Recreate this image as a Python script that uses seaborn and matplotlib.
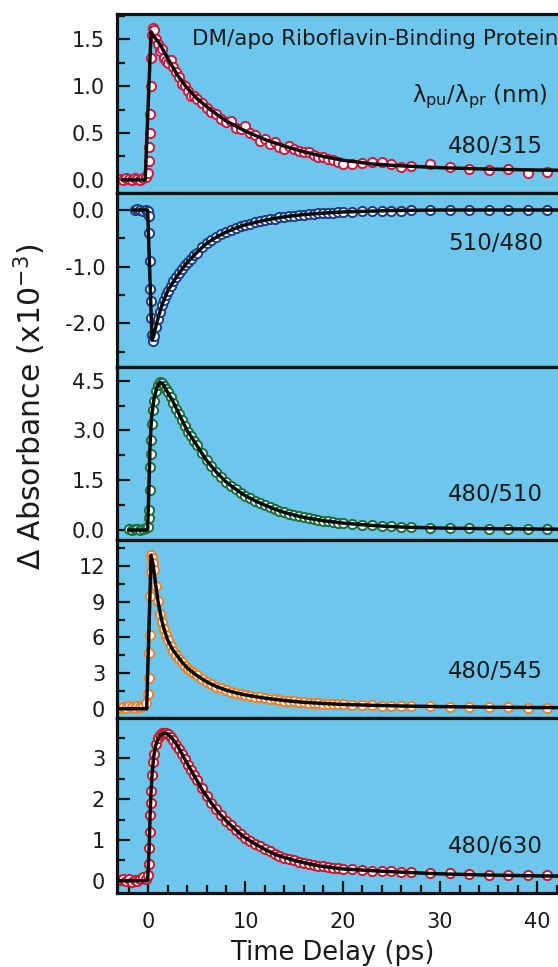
import numpy as np
import matplotlib
matplotlib.use("Agg")
import matplotlib.pyplot as plt
import seaborn as sns
from matplotlib.ticker import MultipleLocator, FormatStrFormatter

nan = np.nan

# ---------------- data ----------------
t_obs = [-2.9, -2.6, -2.3, -2.0, -1.7, -1.4, -1.1, -0.8, -0.5, -0.25,
         0.0, 0.05, 0.1, 0.15, 0.2, 0.25, 0.3, 0.4,
         0.5, 0.6, 0.8, 1.0, 1.2, 1.4, 1.6, 1.8, 2.0, 2.3, 2.6, 2.9, 3.2, 3.5,
         3.8, 4.1, 4.4, 4.7, 5.0, 5.5, 6.0, 6.5, 7.0, 7.5, 8.0, 8.5, 9.0, 9.5,
         10.0, 10.5, 11.0, 11.5, 12.0, 12.5, 13.0, 13.5, 14.0, 14.5, 15.0, 15.5,
         16.0, 16.5, 17.0, 17.5, 18.0, 18.5, 19.0, 19.5, 20.0,
         21, 22, 23, 24, 25, 26, 27, 29, 31, 33, 35, 37, 39, 41, 43]

obs_480_315 = [0.01, 0.0, 0.02, 0.01, 0.0, 0.02, 0.01, 0.0, 0.02, 0.03,
               0.07, 0.2, 0.35, 0.5, 0.7, 1.0, 1.3, 1.55,
               1.62, 1.6, 1.5, 1.45, 1.38, 1.4, 1.3, 1.27, 1.25, 1.28, 1.2, 1.15, 1.1, 1.02,
               1.0, 0.95, 0.9, 0.9, 0.86, 0.82, 0.77, 0.72, 0.70, 0.65, 0.62, 0.63, 0.55, 0.54,
               0.58, 0.50, 0.48, 0.42, 0.44, 0.38, 0.40, 0.35, 0.33, 0.36, 0.33, 0.31,
               0.30, 0.30, 0.27, 0.24, 0.24, 0.22, 0.21, 0.19, 0.17,
               0.17, 0.18, 0.19, 0.19, 0.17, 0.14, 0.15, 0.17, 0.14, 0.12, 0.11, 0.12, 0.07, 0.08, 0.08]

obs_510_480 = [nan, nan, nan, nan, nan, 0.0, 0.01, 0.0, -0.01, 0.0,
               -0.02, -0.1, -0.4, -0.9, -1.4, -1.6, -1.9, -2.2,
               -2.32, -2.22, -2.06, -1.92, -1.8, -1.68, -1.58, -1.5, -1.43, -1.34, -1.26, -1.18, -1.11, -1.04,
               -0.97, -0.91, -0.86, -0.80, -0.75, -0.66, -0.59, -0.53, -0.48, -0.43, -0.39, -0.35, -0.32, -0.29,
               -0.26, -0.24, -0.21, -0.20, -0.18, -0.16, -0.15, -0.13, -0.12, -0.11, -0.10, -0.09,
               -0.08, -0.075, -0.07, -0.06, -0.055, -0.05, -0.045, -0.04, -0.035,
               -0.03, -0.02, -0.02, -0.015, -0.01, -0.01, 0.0, 0.0, 0.0, 0.0, 0.0, 0.0, 0.0, 0.0, 0.0]

obs_480_510 = [nan, nan, nan, 0.02, 0.0, 0.03, 0.02, 0.0, 0.04, 0.05,
               0.1, 0.35, 0.6, 1.2, 1.9, 2.3, 2.7, 3.2,
               3.6, 3.9, 4.2, 4.38, 4.45, 4.42, 4.35, 4.25, 4.15, 4.0, 3.82, 3.65, 3.48, 3.3,
               3.12, 2.96, 2.82, 2.68, 2.55, 2.32, 2.1, 1.92, 1.75, 1.6, 1.45, 1.34, 1.23, 1.12,
               1.03, 0.95, 0.88, 0.81, 0.75, 0.69, 0.63, 0.58, 0.53, 0.49, 0.45, 0.41,
               0.38, 0.35, 0.33, 0.30, 0.28, 0.26, 0.24, 0.22, 0.21,
               0.18, 0.16, 0.14, 0.12, 0.11, 0.09, 0.08, 0.07, 0.06, 0.05, 0.04, 0.04, 0.03, 0.03, 0.02]

obs_480_545 = [0.1, 0.15, 0.1, 0.2, 0.15, 0.1, 0.2, 0.15, 0.2, 0.5,
               1.2, 2.6, 4.7, 6.2, 9.5, 11.5, 12.9, 12.7,
               12.3, 11.7, 10.3, 9.1, 8.0, 7.3, 6.7, 6.2, 5.8, 5.3, 4.9, 4.55, 4.2, 3.9,
               3.62, 3.38, 3.17, 2.98, 2.8, 2.52, 2.27, 2.05, 1.87, 1.71, 1.57, 1.45, 1.34, 1.25,
               1.16, 1.09, 1.02, 0.95, 0.89, 0.84, 0.79, 0.74, 0.69, 0.65, 0.61, 0.57,
               0.54, 0.51, 0.48, 0.46, 0.44, 0.42, 0.40, 0.38, 0.36,
               0.33, 0.31, 0.29, 0.27, 0.25, 0.23, 0.22, 0.20, 0.17, 0.15, 0.13, 0.11, 0.10, 0.09, 0.08]

obs_480_630 = [0.02, 0.05, 0.0, 0.05, -0.02, 0.03, 0.0, 0.05, 0.08, 0.05,
               0.15, 0.4, 0.8, 1.2, 1.6, 1.9, 2.2, 2.6,
               2.9, 3.1, 3.35, 3.5, 3.58, 3.62, 3.63, 3.62, 3.6, 3.53, 3.44, 3.34, 3.22, 3.1,
               2.98, 2.85, 2.72, 2.59, 2.46, 2.27, 2.08, 1.91, 1.75, 1.6, 1.47, 1.36, 1.25, 1.15,
               1.06, 0.98, 0.9, 0.84, 0.77, 0.72, 0.66, 0.61, 0.57, 0.53, 0.5, 0.47,
               0.44, 0.41, 0.39, 0.37, 0.35, 0.34, 0.32, 0.31, 0.3,
               0.28, 0.26, 0.25, 0.24, 0.23, 0.22, 0.21, 0.19, 0.18, 0.16, 0.15, 0.14, 0.13, 0.13, 0.12]

# fitted curves
fit_t_480_315 = [-2.7, -0.3, 0.3, 0.6, 1.2, 2.0, 3.0, 4.0, 5.0, 6.5, 8.0, 10, 12, 14, 16, 18, 20,
                 23, 26, 30, 35, 40, 45]
fit_480_315 = [0.0, 0.0, 1.58, 1.53, 1.45, 1.3, 1.12, 0.98, 0.87, 0.74, 0.63, 0.52, 0.43, 0.36, 0.30,
               0.25, 0.21, 0.17, 0.15, 0.13, 0.115, 0.105, 0.10]

fit_t_510_480 = [-1.6, -0.05, 0.4, 0.6, 0.8, 1.0, 1.2, 1.5, 2.0, 2.5, 3.0, 3.5, 4.0, 4.5, 5.0, 6.0,
                 7.0, 8.0, 9.0, 10, 12, 14, 16, 18, 20, 25, 30, 45]
fit_510_480 = [0.0, 0.0, -2.3, -2.2, -2.05, -1.92, -1.8, -1.64, -1.43, -1.29, -1.16, -1.04, -0.93,
               -0.84, -0.75, -0.59, -0.48, -0.39, -0.32, -0.26, -0.18, -0.12, -0.08, -0.055, -0.035,
               -0.01, 0.0, 0.0]

fit_t_480_510 = [-2.0, -0.05, 0.1, 0.2, 0.35, 0.6, 0.9, 1.2, 1.5, 2.0, 2.5, 3.0, 3.5, 4.0, 4.5, 5.0,
                 6.0, 7.0, 8.0, 9.0, 10, 11, 12, 13, 14, 15, 16, 18, 20, 22, 24, 26, 30, 35, 40, 45]
fit_480_510 = [0.0, 0.0, 1.5, 2.6, 3.4, 3.95, 4.3, 4.45, 4.4, 4.15, 3.9, 3.6, 3.3, 3.0, 2.78, 2.55,
               2.1, 1.75, 1.45, 1.23, 1.03, 0.88, 0.75, 0.63, 0.53, 0.45, 0.38, 0.28, 0.21, 0.16,
               0.12, 0.09, 0.06, 0.04, 0.03, 0.02]

fit_t_480_545 = [-3.2, -0.15, 0.3, 0.5, 0.8, 1.0, 1.3, 1.6, 2.0, 2.5, 3.0, 3.5, 4.0, 5.0, 6.0, 7.0,
                 8.0, 9.0, 10, 12, 14, 16, 18, 20, 23, 26, 30, 35, 40, 45]
fit_480_545 = [0.0, 0.0, 12.9, 12.2, 10.3, 9.1, 7.8, 6.8, 5.8, 5.0, 4.45, 3.9, 3.45, 2.8, 2.27, 1.87,
               1.57, 1.34, 1.16, 0.89, 0.69, 0.54, 0.44, 0.36, 0.29, 0.23, 0.18, 0.13, 0.10, 0.08]

fit_t_480_630 = [-3.2, -0.05, 0.1, 0.2, 0.3, 0.4, 0.55, 0.75, 1.0, 1.3, 1.7, 2.0, 2.5, 3.0, 3.5, 4.0,
                 4.7, 5.5, 6.4, 7.2, 8.1, 9.0, 9.8, 11, 12, 13.2, 15, 16.6, 18, 20, 23.5, 27, 30, 35,
                 40, 45]
fit_480_630 = [0.0, 0.0, 0.8, 1.6, 2.2, 2.6, 3.0, 3.3, 3.48, 3.58, 3.62, 3.6, 3.48, 3.32, 3.1, 2.88,
               2.59, 2.25, 1.94, 1.68, 1.45, 1.25, 1.08, 0.9, 0.77, 0.63, 0.5, 0.41, 0.35, 0.29,
               0.24, 0.2, 0.17, 0.14, 0.12, 0.11]

labels = ["480/315", "510/480", "480/510", "480/545", "480/630"]
x_ticks = [0, 10, 20, 30, 40]

# ---------------- style ----------------
sns.set_style("ticks")
plt.rcParams['font.family'] = ['DejaVu Sans']
plt.rcParams['axes.unicode_minus'] = False
plt.rcParams['mathtext.default'] = 'regular'

W, H = 558, 967
fig = plt.figure(figsize=(W / 100, H / 100), dpi=100)
bg = '#6DC6EC'

panel_px = [(14, 193), (193, 367), (367, 540), (540, 718), (718, 893)]
ylims = [(-0.14, 1.77), (-2.77, 0.30), (-0.30, 4.91), (-0.78, 14.2), (-0.30, 3.99)]
majors = [0.5, 1.0, 1.5, 3.0, 1.0]
minors = [0.25, 0.5, 0.75, 1.5, 0.5]
fmts = ['%.1f', '%.1f', '%.1f', '%d', '%d']
edge_cols = ['#D2173F', '#1C3D82', '#1E6E3C', '#F0822A', '#C9182F']
obs = [obs_480_315, obs_510_480, obs_480_510, obs_480_545, obs_480_630]
fit_t = [fit_t_480_315, fit_t_510_480, fit_t_480_510, fit_t_480_545, fit_t_480_630]
fit_v = [fit_480_315, fit_510_480, fit_480_510, fit_480_545, fit_480_630]
label_base = [152.7, 250.5, 501, 678, 853]

x_left_px, x_right_px = 117, 586
for i in range(5):
    top, bot = panel_px[i]
    ax = fig.add_axes([x_left_px / W, 1 - bot / H, (x_right_px - x_left_px) / W, (bot - top) / H])
    ax.set_facecolor(bg)
    sns.scatterplot(x=t_obs, y=obs[i], ax=ax, s=44, color='white', edgecolor=edge_cols[i],
                    linewidth=1.4, zorder=2, legend=False)
    sns.lineplot(x=fit_t[i], y=fit_v[i], ax=ax, color='#0a0a0a', linewidth=2.5, sort=False,
                 estimator=None, zorder=3)
    ax.set_xlim(-3.2, 45)
    ax.set_ylim(*ylims[i])
    ax.yaxis.set_major_locator(MultipleLocator(majors[i]))
    ax.yaxis.set_minor_locator(MultipleLocator(minors[i]))
    ax.yaxis.set_major_formatter(FormatStrFormatter(fmts[i]))
    ax.tick_params(axis='y', which='major', direction='in', length=9, width=1.6,
                   labelsize=15, pad=8.5, colors='#111111', labelcolor='#1a1a1a')
    ax.tick_params(axis='y', which='minor', direction='in', length=6, width=1.6, colors='#111111')
    ax.set_xlabel('')
    ax.set_ylabel('')
    if i < 4:
        ax.tick_params(axis='x', which='both', bottom=False, labelbottom=False)
    else:
        ax.set_xticks(x_ticks)
        ax.xaxis.set_minor_locator(MultipleLocator(2))
        ax.tick_params(axis='x', which='major', direction='in', length=9, width=1.6,
                       labelsize=15, pad=14, colors='#111111', labelcolor='#1a1a1a')
        ax.tick_params(axis='x', which='minor', direction='in', length=6, width=1.6, colors='#111111')
    for sp in ax.spines.values():
        sp.set_visible(True)
        sp.set_linewidth(2.3)
        sp.set_color('#111111')
    fig.text(543 / W, 1 - label_base[i] / H, labels[i], ha='right', va='baseline',
             fontsize=16.5, color='#1a1a1a')

fig.text(192 / W, 1 - 45 / H, "DM/apo Riboflavin-Binding Protein", ha='left', va='baseline',
         fontsize=15.5, color='#1a1a1a')
fig.text(547 / W, 1 - 102 / H, "λ$_{pu}$/λ$_{pr}$ (nm)", ha='right', va='baseline',
         fontsize=16.5, color='#1a1a1a')
fig.text(30 / W, 1 - 407 / H, r"$\Delta$ Absorbance (x10$^{-3}$)", rotation=90, ha='center',
         va='center', fontsize=21.5, color='#1a1a1a')
fig.text(333 / W, 1 - 960 / H, "Time Delay (ps)", ha='center', va='baseline', fontsize=18.5,
         color='#1a1a1a')

fig.savefig("out.png", dpi=100, facecolor='white')
